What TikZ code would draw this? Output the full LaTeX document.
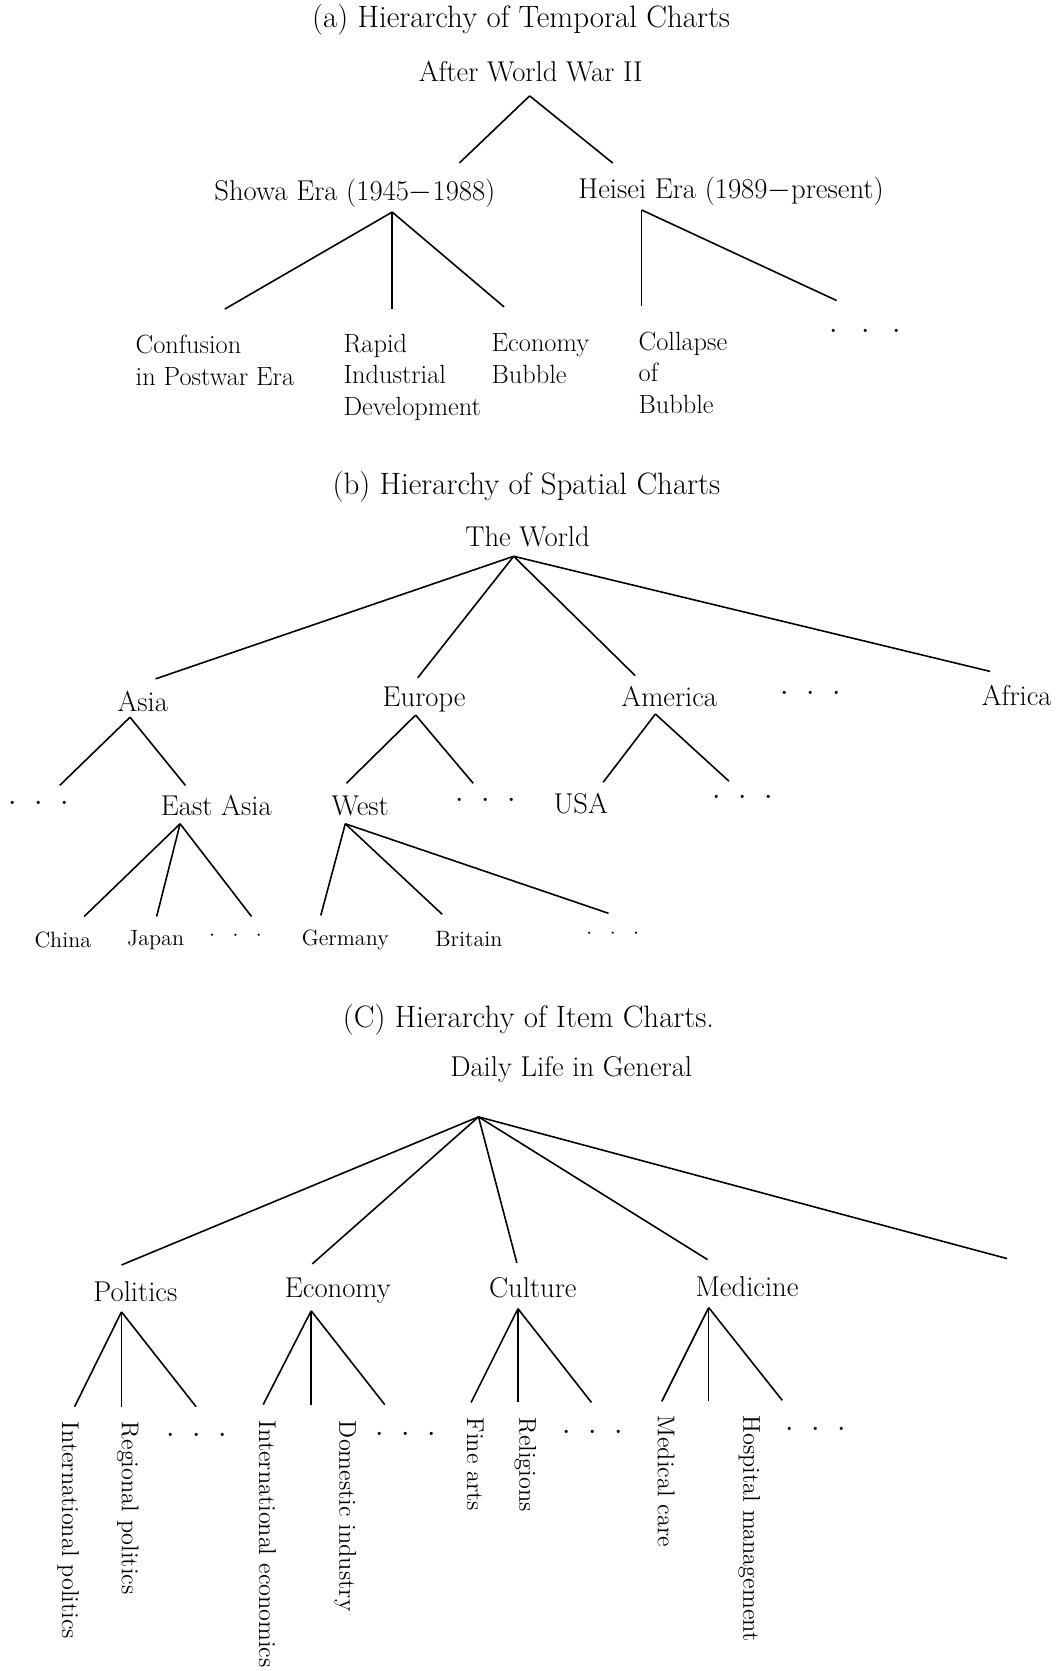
\documentclass[tikz,border=0pt]{standalone}
\usepackage{tikz}

\tikzset{
	branch/.style={line width=0.9pt},
	heading/.style={font=\fontsize{17.6}{21}\selectfont, inner sep=0pt},
	caption/.style={font=\fontsize{16.3}{19}\selectfont, inner sep=0pt},
	leaf/.style={font=\fontsize{15}{18}\selectfont, inner sep=0pt, align=left, anchor=north west},
	twig/.style={font=\fontsize{12.6}{15}\selectfont, inner sep=0pt},
	vertical/.style={font=\fontsize{13.8}{16}\selectfont, inner sep=0pt, rotate=-90, anchor=west}
}
\newcommand{\etcdots}[1][10pt]{$\cdot$\hspace{#1}$\cdot$\hspace{#1}$\cdot$}

\begin{document}
\begin{tikzpicture}[x=0.21308mm, y=-0.21308mm]
		\useasboundingbox (0, 0) rectangle (994, 1568);
		
		% (a) Temporal Charts
		\node [heading] (title-a) at (489, 19) {(a) Hierarchy of Temporal Charts};
		\node [caption] (wwii) at (498, 67) {After World War II};
		\node [caption] (showa) at (333, 181) {Showa Era (1945$-$1988)};
		\node [caption] (heisei) at (686, 180) {Heisei Era (1989$-$present)};
		\node [leaf] (confusion) at (127, 314) {Confusion\\in Postwar Era};
		\node [leaf] (rapid) at (322, 313) {Rapid\\Industrial\\Development};
		\node [leaf] (bubble) at (461, 313) {Economy\\Bubble};
		\node [leaf] (collapse) at (599, 311) {Collapse\\of\\Bubble};
		\node [caption] (heisei-etc) at (812, 311) {\etcdots[13pt]};
		
		% Line ends
		\coordinate (wwii-j) at (497, 90);
		\coordinate (showa-t) at (431, 153);
		\coordinate (heisei-t) at (575, 153);
		\coordinate (showa-j) at (368, 199);
		\coordinate (confusion-t) at (211, 290);
		\coordinate (rapid-t) at (368, 290);
		\coordinate (bubble-t) at (473, 288);
		\coordinate (heisei-j) at (602, 197);
		\coordinate (collapse-t) at (602, 287);
		\coordinate (heisei-etc-t) at (785, 282);
		
		% Branches
		\draw [branch] (wwii-j) -- (showa-t);
		\draw [branch] (wwii-j) -- (heisei-t);
		\draw [branch] (showa-j) -- (confusion-t);
		\draw [branch] (showa-j) -- (rapid-t);
		\draw [branch] (showa-j) -- (bubble-t);
		\draw [branch] (heisei-j) -- (collapse-t);
		\draw [branch] (heisei-j) -- (heisei-etc-t);
		
		% (b) Spatial Charts
		\node [heading] (title-b) at (494, 457) {(b) Hierarchy of Spatial Charts};
		\node [caption] (world) at (495, 504) {The World};
		\node [caption] (asia) at (134, 658) {Asia};
		\node [caption] (europe) at (398, 656) {Europe};
		\node [caption] (america) at (628, 654) {America};
		\node [caption] (world-etc) at (761, 651) {\etcdots};
		\node [caption] (africa) at (954, 653) {Africa};
		\node [caption] (asia-etc) at (36, 754) {\etcdots};
		\node [caption] (eastasia) at (203, 756) {East Asia};
		\node [caption] (west) at (338, 756) {West};
		\node [caption] (europe-etc) at (456, 751) {\etcdots};
		\node [caption] (usa) at (545, 754) {USA};
		\node [caption] (america-etc) at (697, 749) {\etcdots};
		\node [twig] (china) at (59, 882) {China};
		\node [twig] (japan) at (146, 882) {Japan};
		\node [twig] (eastasia-etc) at (221, 878) {\etcdots};
		\node [twig] (germany) at (324, 882) {Germany};
		\node [twig] (britain) at (440, 881) {Britain};
		\node [twig] (west-etc) at (575, 876) {\etcdots};
		
		% Line ends
		\coordinate (world-j) at (482, 522);
		\coordinate (asia-t) at (146, 637);
		\coordinate (europe-t) at (392, 636);
		\coordinate (america-t) at (596, 634);
		\coordinate (africa-t) at (929, 630);
		\coordinate (asia-j) at (122, 673);
		\coordinate (asia-etc-t) at (56, 737);
		\coordinate (eastasia-t) at (174, 737);
		\coordinate (europe-j) at (390, 671);
		\coordinate (west-t) at (325, 735);
		\coordinate (europe-etc-t) at (444, 735);
		\coordinate (america-j) at (615, 670);
		\coordinate (usa-t) at (566, 734);
		\coordinate (america-etc-t) at (684, 733);
		\coordinate (eastasia-j) at (169, 773);
		\coordinate (china-t) at (79, 860);
		\coordinate (japan-t) at (147, 860);
		\coordinate (eastasia-etc-t) at (236, 860);
		\coordinate (west-j) at (324, 773);
		\coordinate (germany-t) at (301, 859);
		\coordinate (britain-t) at (415, 858);
		\coordinate (west-etc-t) at (571, 857);
		
		% Branches
		\draw [branch] (world-j) -- (asia-t);
		\draw [branch] (world-j) -- (europe-t);
		\draw [branch] (world-j) -- (america-t);
		\draw [branch] (world-j) -- (africa-t);
		\draw [branch] (asia-j) -- (asia-etc-t);
		\draw [branch] (asia-j) -- (eastasia-t);
		\draw [branch] (europe-j) -- (west-t);
		\draw [branch] (europe-j) -- (europe-etc-t);
		\draw [branch] (america-j) -- (usa-t);
		\draw [branch] (america-j) -- (america-etc-t);
		\draw [branch] (eastasia-j) -- (china-t);
		\draw [branch] (eastasia-j) -- (japan-t);
		\draw [branch] (eastasia-j) -- (eastasia-etc-t);
		\draw [branch] (west-j) -- (germany-t);
		\draw [branch] (west-j) -- (britain-t);
		\draw [branch] (west-j) -- (west-etc-t);
		
		% (C) Item Charts
		\node [heading] (title-c) at (496, 957) {(C) Hierarchy of Item Charts.};
		\node [caption] (daily) at (536, 1003) {Daily Life in General};
		\node [caption] (politics) at (127, 1212) {Politics};
		\node [caption] (economy) at (317, 1211) {Economy};
		\node [caption] (culture) at (500, 1208) {Culture};
		\node [caption] (medicine) at (701, 1207) {Medicine};
		\node [vertical] (intpol) at (64, 1334) {International politics};
		\node [vertical] (regpol) at (120, 1334) {Regional politics};
		\node [caption] (politics-etc) at (185, 1347) {\etcdots};
		\node [vertical] (inteco) at (251, 1333) {International economics};
		\node [vertical] (domind) at (324, 1333) {Domestic industry};
		\node [caption] (economy-etc) at (381, 1346) {\etcdots};
		\node [vertical] (finearts) at (446, 1330) {Fine arts};
		\node [vertical] (religions) at (493, 1330) {Religions};
		\node [caption] (culture-etc) at (556, 1344) {\etcdots};
		\node [vertical] (medcare) at (625, 1328) {Medical care};
		\node [vertical] (hospital) at (703, 1328) {Hospital management};
		\node [caption] (medicine-etc) at (765, 1342) {\etcdots};
		
		% Line ends
		\coordinate (daily-j) at (449, 1048);
		\coordinate (politics-t) at (114, 1187);
		\coordinate (economy-t) at (293, 1186);
		\coordinate (culture-t) at (485, 1185);
		\coordinate (medicine-t) at (664, 1182);
		\coordinate (daily-more-t) at (945, 1181);
		\coordinate (politics-j) at (114, 1231);
		\coordinate (intpol-t) at (70, 1320);
		\coordinate (regpol-t) at (114, 1320);
		\coordinate (politics-etc-t) at (184, 1320);
		\coordinate (economy-j) at (292, 1230);
		\coordinate (inteco-t) at (247, 1318);
		\coordinate (domind-t) at (292, 1318);
		\coordinate (economy-etc-t) at (361, 1318);
		\coordinate (culture-j) at (486, 1228);
		\coordinate (finearts-t) at (442, 1316);
		\coordinate (religions-t) at (486, 1316);
		\coordinate (culture-etc-t) at (555, 1316);
		\coordinate (medicine-j) at (665, 1227);
		\coordinate (medcare-t) at (621, 1315);
		\coordinate (hospital-t) at (665, 1315);
		\coordinate (medicine-etc-t) at (734, 1314);
		
		% Branches
		\draw [branch] (daily-j) -- (politics-t);
		\draw [branch] (daily-j) -- (economy-t);
		\draw [branch] (daily-j) -- (culture-t);
		\draw [branch] (daily-j) -- (medicine-t);
		\draw [branch] (daily-j) -- (daily-more-t);
		\draw [branch] (politics-j) -- (intpol-t);
		\draw [branch] (politics-j) -- (regpol-t);
		\draw [branch] (politics-j) -- (politics-etc-t);
		\draw [branch] (economy-j) -- (inteco-t);
		\draw [branch] (economy-j) -- (domind-t);
		\draw [branch] (economy-j) -- (economy-etc-t);
		\draw [branch] (culture-j) -- (finearts-t);
		\draw [branch] (culture-j) -- (religions-t);
		\draw [branch] (culture-j) -- (culture-etc-t);
		\draw [branch] (medicine-j) -- (medcare-t);
		\draw [branch] (medicine-j) -- (hospital-t);
		\draw [branch] (medicine-j) -- (medicine-etc-t);
		
	\end{tikzpicture}
\end{document}
